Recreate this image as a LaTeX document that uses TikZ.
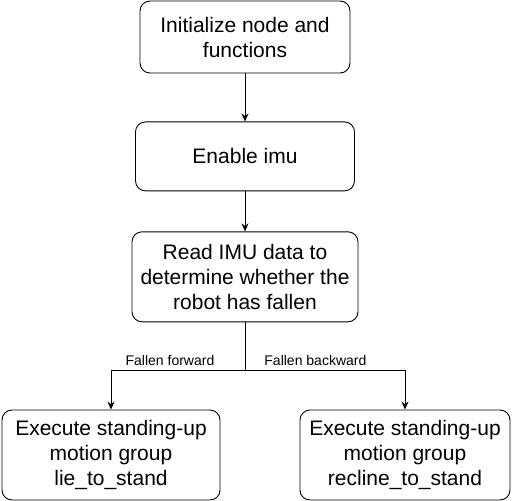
\documentclass[tikz,border=0pt]{standalone}
\usepackage{fontspec}
\setmainfont{Liberation Sans}
\usetikzlibrary{arrows.meta}
\usetikzlibrary{positioning}

\tikzset{
  box/.style={draw, rounded corners=10pt, line width=0.9pt, align=center,
    font=\fontsize{21}{25}\selectfont, inner sep=0pt},
  flow/.style={-{Stealth[length=8pt,width=7pt]}, line width=0.9pt},
  lbl/.style={font=\fontsize{14}{16}\selectfont, inner sep=1pt}
}

\begin{document}
\begin{tikzpicture}[x=1pt,y=-1pt]
            \useasboundingbox (0,0) rectangle (512,501);

            \node[box, minimum width=210pt, minimum height=72pt] (init) at (245,37) {Initialize node and\\functions};
            \node[box, minimum width=219pt, minimum height=69pt, below=48pt of init] (imu) {Enable imu};
            \node[box, minimum width=226pt, minimum height=90pt, below=40pt of imu] (read) {Read IMU data to\\determine whether the\\robot has fallen};

            \node[box, minimum width=218pt, minimum height=90pt] (lie) at (111,455) {Execute standing-up\\motion group\\lie\_to\_stand};
            \node[box, minimum width=210pt, minimum height=90pt] (recline) at (405,455) {Execute standing-up\\motion group\\recline\_to\_stand};

            \coordinate (split) at (245,370);

            \draw[flow] (init) -- (imu);
            \draw[flow] (imu) -- (read);
            \draw[line width=0.9pt] (read) -- (split);
            \draw[flow] (split) -| node[lbl, pos=0.28, above=3pt] {Fallen forward} (lie);
            \draw[flow] (split) -| node[lbl, pos=0.22, above=3pt] {Fallen backward} (recline);
        \end{tikzpicture}
\end{document}
